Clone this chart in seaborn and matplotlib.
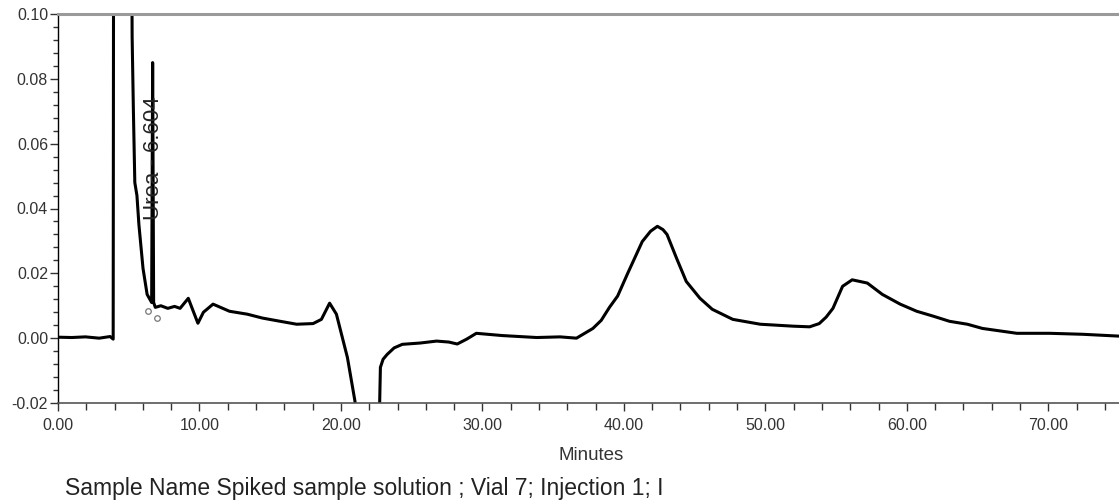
import numpy as np
import pandas as pd
import matplotlib
matplotlib.use("Agg")
import matplotlib.pyplot as plt
from matplotlib.ticker import MultipleLocator
import seaborn as sns

# Retention time (minutes) and detector response (AU)
minutes = [0.00, 0.97, 1.94, 2.91, 3.68, 3.90, 3.97, 4.05, 5.14, 5.24, 5.33, 5.43, 5.58,
           5.72, 6.01, 6.30, 6.62, 6.69, 6.76, 6.88, 7.27, 7.76, 8.24, 8.63, 9.21,
           9.50, 9.89, 10.28, 10.96, 12.12, 13.38, 14.45, 15.71, 16.87, 18.03, 18.62,
           19.20, 19.68, 20.46, 20.99, 21.23, 21.82, 22.69, 22.79, 22.98, 23.27,
           23.76, 24.34, 25.60, 26.76, 27.63, 28.22, 28.89, 29.57, 31.42, 33.84,
           35.49, 36.65, 37.81, 38.40, 38.98, 39.56, 40.24, 41.30, 41.89, 42.37,
           42.76, 43.05, 43.73, 44.41, 45.38, 46.25, 47.70, 49.64, 51.97, 53.13,
           53.81, 54.30, 54.78, 55.46, 56.14, 57.21, 58.27, 59.53, 60.70, 61.86,
           63.02, 64.28, 65.35, 67.78, 70.10, 72.43, 75.14]
response = [0.0003, 0.0002, 0.0004, 0.0000, 0.0005, -0.0003, 0.30, 0.60, 0.20, 0.093,
            0.070, 0.048, 0.044, 0.035, 0.0215, 0.0135, 0.011, 0.085, 0.011, 0.0095,
            0.0100, 0.0092, 0.0098, 0.0092, 0.0123, 0.0090, 0.0046, 0.0080, 0.0105,
            0.0083, 0.0074, 0.0062, 0.0052, 0.0043, 0.0045, 0.0058, 0.0108, 0.0074,
            -0.006, -0.0194, -0.030, -0.060, -0.030, -0.009, -0.0065, -0.0050,
            -0.0030, -0.0019, -0.0015, -0.0009, -0.0012, -0.0018, -0.0003, 0.0015,
            0.0008, 0.0002, 0.0004, 0.0000, 0.0030, 0.0055, 0.0095, 0.0130, 0.0197,
            0.0298, 0.0330, 0.0345, 0.0335, 0.0320, 0.0246, 0.0175, 0.0123, 0.0089,
            0.0058, 0.0043, 0.0037, 0.0035, 0.0045, 0.0065, 0.0092, 0.0160, 0.0180,
            0.0170, 0.0135, 0.0105, 0.0083, 0.0068, 0.0052, 0.0043, 0.0030, 0.0015,
            0.0015, 0.0012, 0.0006]

peak_name = "Urea"
peak_rt = "6.604"
peak_label_pos = (6.72, 0.0555)
marker_minutes = [6.36, 7.00]
marker_response = [0.0083, 0.0062]
x_tick_labels = ["0.00", "10.00", "20.00", "30.00", "40.00", "50.00", "60.00", "70.00"]
y_tick_labels = ["-0.02", "0.00", "0.02", "0.04", "0.06", "0.08", "0.10"]
x_label = "Minutes"
footer = "Sample Name Spiked sample solution ; Vial 7; Injection 1; I"

df = pd.DataFrame({"Minutes": minutes, "AU": response})

sns.set_theme(style="white")
plt.rcParams["font.family"] = ["Liberation Sans", "DejaVu Sans"]

W, H = 1119, 501
fig = plt.figure(figsize=(W / 100, H / 100), dpi=100)
ax = fig.add_axes([58 / W, 1 - 403 / H, (W - 58) / W, (403 - 14) / H])

sns.lineplot(data=df, x="Minutes", y="AU", ax=ax, color="black", linewidth=2.2,
             estimator=None, sort=False)

ax.set_xlim(0, 75.0)
ax.set_ylim(-0.02, 0.10)

ax.set_xticks([float(s) for s in x_tick_labels])
ax.set_xticklabels(x_tick_labels)
ax.set_yticks([float(s) for s in y_tick_labels])
ax.set_yticklabels(y_tick_labels)
ax.xaxis.set_minor_locator(MultipleLocator(2))
ax.yaxis.set_minor_locator(MultipleLocator(0.004))

ax.tick_params(axis="both", which="both", direction="out", colors="#333333",
               labelsize=11.5, bottom=True, left=True, top=False, right=False)
ax.tick_params(axis="y", which="major", length=6, width=1.0, pad=1.2)
ax.tick_params(axis="y", which="minor", length=3.5, width=1.0)
ax.tick_params(axis="x", which="major", length=6, width=1.0, pad=4.5)
ax.tick_params(axis="x", which="minor", length=5, width=1.0)

ax.set_xlabel("")
ax.set_ylabel("")

ax.spines["left"].set_visible(True)
ax.spines["left"].set_color("black")
ax.spines["left"].set_linewidth(1.0)
ax.spines["bottom"].set_visible(True)
ax.spines["bottom"].set_color("#555555")
ax.spines["bottom"].set_linewidth(1.2)
ax.spines["top"].set_visible(True)
ax.spines["top"].set_color("#9a9a9a")
ax.spines["top"].set_linewidth(2.2)
ax.spines["right"].set_visible(False)

# peak annotation
ax.text(peak_label_pos[0], peak_label_pos[1], f"{peak_name} - {peak_rt}",
        rotation=90, ha="center", va="center", fontsize=16, color="#222222")
ax.plot(marker_minutes, marker_response, linestyle="none", marker="o",
        markersize=4, markerfacecolor="white", markeredgecolor="#777777",
        markeredgewidth=0.9)

fig.text(591 / W, 1 - 456 / H, x_label, ha="center", va="center",
         fontsize=13.5, color="#333333")
fig.text(65 / W, 1 - 489 / H, footer, ha="left", va="center",
         fontsize=16.5, color="#222222")

fig.savefig("out.png", dpi=100)
